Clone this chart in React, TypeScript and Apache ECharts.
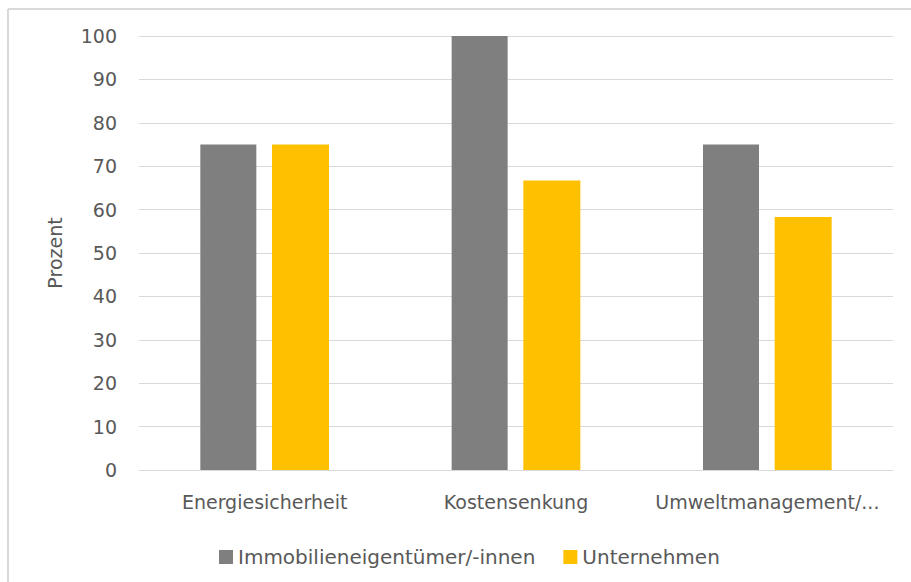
import React, { useEffect, useRef } from "react";
import * as echarts from "echarts";

const categories = ["Energiesicherheit", "Kostensenkung", "Umweltmanagement/..."];
const seriesNames = ["Immobilieneigentümer/-innen", "Unternehmen"];
const ownersValues = [75, 100, 75];
const companiesValues = [75, 66.7, 58.3];
const yTicks = { min: 0, max: 100, interval: 10 };

const FONT = "DejaVu Sans";
const TEXT = "#595959";

export default function App() {
  const ref = useRef<HTMLDivElement>(null);
  useEffect(() => {
    if (!ref.current) return;
    const chart = echarts.init(ref.current, null, { renderer: "svg" });
    chart.setOption({
      animation: false,
      textStyle: { fontFamily: FONT },
      grid: { left: 139, right: 18, top: 36, bottom: 112, containLabel: false },
      graphic: [
        { type: "line", shape: { x1: 8, y1: 9, x2: 911, y2: 9 }, style: { stroke: "#d9d9d9", lineWidth: 2 } },
        { type: "line", shape: { x1: 8, y1: 9, x2: 8, y2: 582 }, style: { stroke: "#d9d9d9", lineWidth: 2 } },
      ],
      legend: {
        left: 219,
        top: 547,
        padding: 0,
        itemWidth: 14,
        itemHeight: 14,
        itemGap: 28,
        icon: "rect",
        textStyle: { color: TEXT, fontSize: 20, fontFamily: FONT },
        data: seriesNames,
      },
      xAxis: {
        type: "category",
        data: categories,
        axisTick: { show: false },
        axisLine: { lineStyle: { color: "#d9d9d9", width: 1 } },
        axisLabel: { color: TEXT, fontSize: 19, fontFamily: FONT, margin: 22, interval: 0 },
      },
      yAxis: {
        type: "value",
        min: yTicks.min,
        max: yTicks.max,
        interval: yTicks.interval,
        name: "Prozent",
        nameLocation: "middle",
        nameGap: 75,
        nameTextStyle: { color: TEXT, fontSize: 19, fontFamily: FONT },
        axisLine: { show: false },
        axisTick: { show: false },
        axisLabel: { color: TEXT, fontSize: 19, fontFamily: FONT, margin: 22 },
        splitLine: { lineStyle: { color: "#d9d9d9", width: 1 } },
      },
      series: [
        {
          name: seriesNames[0],
          type: "bar",
          data: ownersValues,
          barWidth: 56,
          barGap: "28%",
          itemStyle: { color: "#7f7f7f" },
        },
        {
          name: seriesNames[1],
          type: "bar",
          data: companiesValues,
          barWidth: 57,
          itemStyle: { color: "#ffc000" },
        },
      ],
    });
    return () => chart.dispose();
  }, []);
  return (
    <div
      ref={ref}
      style={{ position: "absolute", left: 0, top: 0, width: 911, height: 582, background: "#fff" }}
    />
  );
}
